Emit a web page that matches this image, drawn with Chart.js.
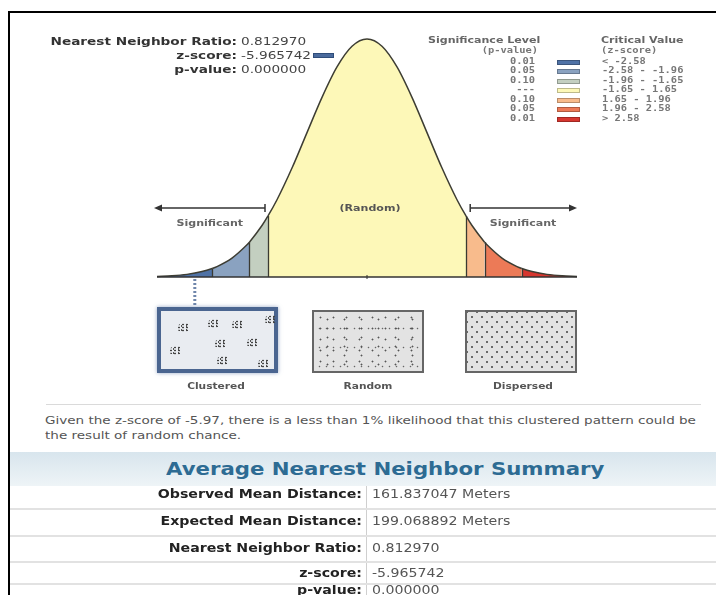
<!DOCTYPE html>
<html lang="en">
<head>
    <meta charset="UTF-8">
    <title>Average Nearest Neighbor Summary</title>
    <style>
        body {
            margin: 0;
            width: 716px;
            height: 595px;
            overflow: hidden;
            background: #fff;
            position: relative;
            font-family: "DejaVu Sans", Verdana, sans-serif;
        }
        .abs { position: absolute; white-space: nowrap; }
        /* the report text is a little wider than tall */
        .sl { transform: scaleX(1.3); transform-origin: left center; }
        .sr { transform: scaleX(1.3); transform-origin: right center; }
        .sc { transform: scaleX(1.25); transform-origin: center center; }
        .frame-top { position: absolute; left: 8px; top: 11px; width: 708px; height: 2px; background: #000; }
        .frame-left { position: absolute; left: 8px; top: 11px; width: 2px; height: 584px; background: #000; }
        #curve { position: absolute; left: 0; top: 0; }
        .stat-label { font-size: 10.5px; font-weight: bold; color: #333; text-align: right; width: 200px; left: 37px; }
        .stat-value { font-size: 10.5px; color: #444; left: 241px; }
        .leg-head { font-size: 8.5px; font-weight: bold; color: #666; }
        .leg-mono { font-family: "DejaVu Sans Mono", monospace; font-size: 8px; font-weight: bold; color: #777; }
        .swatch { position: absolute; width: 23px; height: 5px; box-sizing: border-box; border: 1px solid rgba(0,0,0,0.25); }
        .box { position: absolute; box-sizing: border-box; }
        .clustered {
            left: 157px; top: 307px; width: 121px; height: 66px;
            border: 4px solid #4a6590;
            background: #e9ecf1;
            box-shadow: 0 0 4px rgba(80,110,160,0.6);
        }
        .clu {
            position: absolute; width: 13px; height: 9px; border-radius: 60% 40% 50% 45%;
            background:
                radial-gradient(circle, #444 0.7px, transparent 1.2px) 0 0 / 4px 3px,
                radial-gradient(circle, #555 0.6px, transparent 1.1px) 2px 1px / 5px 4px;
        }
        .random {
            left: 312px; top: 310px; width: 112px; height: 63px;
            border: 2px solid #666;
            background-color: #e3e3e3;
            background-image:
                radial-gradient(circle, #555 0.7px, transparent 1.2px),
                radial-gradient(circle, #555 0.7px, transparent 1.2px),
                radial-gradient(circle, #666 0.6px, transparent 1.1px);
            background-size: 13px 11px, 17px 9px, 7px 19px;
            background-position: 0 0, 5px 3px, 2px 7px;
        }
        .dispersed {
            left: 465px; top: 310px; width: 112px; height: 63px;
            border: 2px solid #666;
            background-color: #e3e3e3;
            background-image:
                radial-gradient(circle, #666 0.7px, transparent 1.2px),
                radial-gradient(circle, #666 0.7px, transparent 1.2px);
            background-size: 10px 10px, 10px 10px;
            background-position: 0 0, 5px 5px;
        }
        .pat-label { font-size: 8.5px; font-weight: bold; color: #555; text-align: center; width: 120px; top: 381px; }
        .sep { position: absolute; left: 46px; top: 404px; width: 655px; height: 1px; background: #dadada; }
        .note { left: 45px; top: 413px; font-size: 11px; line-height: 15px; color: #555; white-space: normal; width: 545px;
                transform: scaleX(1.23); transform-origin: left top; }
        .band {
            position: absolute; left: 10px; top: 452px; width: 706px; height: 34px;
            background: linear-gradient(to bottom, #d8e5ed, #eef4f7);
        }
        .title { left: 166px; top: 459px; font-size: 17px; font-weight: bold; color: #2d6b93;
                 transform: scaleX(1.25); transform-origin: left center; }
        .vline { position: absolute; left: 366px; top: 486px; width: 1px; height: 109px; background: #cfcfcf; }
        .hline { position: absolute; left: 10px; width: 706px; height: 2px; background: #e2e2e2; }
        .row-label { font-size: 11.5px; font-weight: bold; color: #222; text-align: right; width: 300px; left: 62px;
                     transform: scaleX(1.23); transform-origin: right center; }
        .row-value { font-size: 11.5px; color: #555; left: 372px;
                     transform: scaleX(1.23); transform-origin: left center; }
    </style>
</head>
<body>
    <canvas id="curve" width="716" height="310"></canvas>
    <div class="frame-top"></div>
    <div class="frame-left"></div>
    <div id="stats"></div>
    <div class="abs" style="left:313px;top:53px;width:21px;height:5px;background:#4a6a9c;border:1px solid #2f4d7a;box-sizing:border-box;"></div>
    <div id="legend"></div>

    <div class="box clustered" id="clusterBox"></div>
    <div class="box random"></div>
    <div class="box dispersed"></div>
    <div class="abs pat-label sc" style="left:156px;">Clustered</div>
    <div class="abs pat-label sc" style="left:308px;">Random</div>
    <div class="abs pat-label sc" style="left:463px;">Dispersed</div>

    <div class="sep"></div>
    <div class="abs note">Given the z-score of -5.97, there is a less than 1% likelihood that this clustered pattern could be the result of random chance.</div>

    <div class="band"></div>
    <div class="abs title">Average Nearest Neighbor Summary</div>
    <div class="vline"></div>
    <div id="summary"></div>

    <script src="https://cdn.jsdelivr.net/npm/chart.js"></script>
    <script>
        // standard normal curve
        const zValues = [-3.5, -3.25, -3, -2.75, -2.58, -2.5, -2.25, -2, -1.96, -1.75, -1.65, -1.5, -1.25, -1, -0.75, -0.5, -0.25,
                         0, 0.25, 0.5, 0.75, 1, 1.25, 1.5, 1.65, 1.75, 1.96, 2, 2.25, 2.5, 2.58, 2.75, 3, 3.25, 3.5];
        const density = [0.0009, 0.0020, 0.0044, 0.0091, 0.0143, 0.0175, 0.0317, 0.0540, 0.0584, 0.0863, 0.1023, 0.1295, 0.1826, 0.2420, 0.3011, 0.3521, 0.3867,
                         0.3989, 0.3867, 0.3521, 0.3011, 0.2420, 0.1826, 0.1295, 0.1023, 0.0863, 0.0584, 0.0540, 0.0317, 0.0175, 0.0143, 0.0091, 0.0044, 0.0020, 0.0009];
        const criticalZ = [-2.58, -1.96, -1.65, 1.65, 1.96, 2.58];
        const bandColors = ['#4f72a6', '#8aa2c0', '#c3cfc0', '#fdf8b8', '#f8bb8c', '#ec7a57', '#d6362f'];
        const markerZ = -2.87;   // observed z-score (-5.97) is pinned at the left tail

        const pLevels = ['0.01', '0.05', '0.10', '---', '0.10', '0.05', '0.01'];
        const zRanges = ['< -2.58', '-2.58 - -1.96', '-1.96 - -1.65', '-1.65 - 1.65', '1.65 - 1.96', '1.96 - 2.58', '> 2.58'];

        const statLabels = ['Nearest Neighbor Ratio:', 'z-score:', 'p-value:'];
        const statValues = ['0.812970', '-5.965742', '0.000000'];

        const summaryLabels = ['Observed Mean Distance:', 'Expected Mean Distance:', 'Nearest Neighbor Ratio:', 'z-score:', 'p-value:'];
        const summaryValues = ['161.837047 Meters', '199.068892 Meters', '0.812970', '-5.965742', '0.000000'];

        function bandIndex(z) {
            let i = 0;
            while (i < criticalZ.length && z > criticalZ[i]) i++;
            return i;
        }

        // top left stats
        let html = '';
        statLabels.forEach((lab, i) => {
            const top = 35 + i * 14;
            html += `<div class="abs stat-label sr" style="top:${top}px">${lab}</div>`;
            html += `<div class="abs stat-value sl" style="top:${top}px">${statValues[i]}</div>`;
        });
        document.getElementById('stats').innerHTML = html;

        // legend
        html = '';
        html += '<div class="abs leg-head sl" style="left:428px;top:35px">Significance Level</div>';
        html += '<div class="abs leg-mono sr" style="left:478px;top:46px;width:60px;text-align:right">(p-value)</div>';
        html += '<div class="abs leg-head sl" style="left:601px;top:35px">Critical Value</div>';
        html += '<div class="abs leg-mono sl" style="left:601px;top:46px">(z-score)</div>';
        pLevels.forEach((p, i) => {
            const cy = 62 + i * 9.5;
            html += `<div class="abs leg-mono sr" style="left:495px;width:40px;text-align:right;top:${cy - 5.5}px">${p}</div>`;
            html += `<div class="swatch" style="left:557px;top:${cy - 2.5}px;background:${bandColors[i]}"></div>`;
            html += `<div class="abs leg-mono sl" style="left:602px;top:${cy - 5.5}px">${zRanges[i]}</div>`;
        });
        document.getElementById('legend').innerHTML = html;

        // clusters in the clustered sketch
        const clusterSpots = [[16, 12], [46, 8], [70, 9], [103, 4], [8, 35], [53, 28], [85, 27], [55, 45], [96, 48]];
        document.getElementById('clusterBox').innerHTML =
            clusterSpots.map(s => `<div class="clu" style="left:${s[0]}px;top:${s[1]}px"></div>`).join('');

        // summary table
        html = '';
        const rowCenters = [494, 521, 548, 573, 590];
        const rowLines = [508, 535, 561, 583];
        summaryLabels.forEach((lab, i) => {
            html += `<div class="abs row-label" style="top:${rowCenters[i] - 7.5}px">${lab}</div>`;
            html += `<div class="abs row-value" style="top:${rowCenters[i] - 7.5}px">${summaryValues[i]}</div>`;
        });
        rowLines.forEach(y => { html += `<div class="hline" style="top:${y}px"></div>`; });
        document.getElementById('summary').innerHTML = html;

        const bellExtras = {
            id: 'bellExtras',
            afterDatasetsDraw(chart) {
                const ctx = chart.ctx;
                const xs = chart.scales.x, ys = chart.scales.y;
                const y0 = ys.getPixelForValue(0);
                ctx.save();

                // band dividers
                ctx.strokeStyle = '#3a3a32';
                ctx.lineWidth = 1.3;
                criticalZ.forEach(z => {
                    const i = zValues.indexOf(z);
                    const px = Math.round(xs.getPixelForValue(z)) + 0.5;
                    ctx.beginPath();
                    ctx.moveTo(px, y0);
                    ctx.lineTo(px, ys.getPixelForValue(density[i]));
                    ctx.stroke();
                });

                // baseline + center tick
                ctx.strokeStyle = '#333';
                ctx.lineWidth = 1.6;
                ctx.beginPath();
                ctx.moveTo(xs.getPixelForValue(-3.5), y0);
                ctx.lineTo(xs.getPixelForValue(3.5), y0);
                ctx.stroke();
                const cx = xs.getPixelForValue(0);
                ctx.lineWidth = 1;
                ctx.beginPath();
                ctx.moveTo(cx, y0 - 2);
                ctx.lineTo(cx, y0 + 2);
                ctx.stroke();

                // significance arrows
                const ay = chart.chartArea.top + 169;
                ctx.lineWidth = 1.5;
                ctx.fillStyle = '#333';
                const drawArrow = (from, to) => {
                    const x1 = xs.getPixelForValue(from), x2 = xs.getPixelForValue(to);
                    const dir = Math.sign(x2 - x1);
                    ctx.beginPath();
                    ctx.moveTo(x1, ay); ctx.lineTo(x2 - dir * 6, ay);
                    ctx.stroke();
                    ctx.beginPath();
                    ctx.moveTo(x1, ay - 4); ctx.lineTo(x1, ay + 4);
                    ctx.stroke();
                    ctx.beginPath();
                    ctx.moveTo(x2, ay); ctx.lineTo(x2 - dir * 8, ay - 3.5); ctx.lineTo(x2 - dir * 8, ay + 3.5);
                    ctx.closePath();
                    ctx.fill();
                };
                drawArrow(-1.7, -3.55);
                drawArrow(1.72, 3.5);

                const wideText = (txt, x, y) => {
                    ctx.save();
                    ctx.translate(x, y);
                    ctx.scale(1.3, 1);
                    ctx.fillText(txt, 0, 0);
                    ctx.restore();
                };
                ctx.font = 'bold 8.5px "DejaVu Sans"';
                ctx.fillStyle = '#666';
                ctx.textAlign = 'center';
                ctx.textBaseline = 'middle';
                wideText('Significant', xs.getPixelForValue(-2.62), ay + 16);
                wideText('Significant', xs.getPixelForValue(2.6), ay + 16);
                ctx.fillStyle = '#555';
                wideText('(Random)', xs.getPixelForValue(0.05), ay + 1);

                // dotted pointer from the observed z-score down to the pattern
                const mx = xs.getPixelForValue(markerZ);
                ctx.strokeStyle = '#6f86ab';
                ctx.lineWidth = 3;
                ctx.setLineDash([2, 2]);
                ctx.beginPath();
                ctx.moveTo(mx, y0 + 2);
                ctx.lineTo(mx, y0 + 29);
                ctx.stroke();
                ctx.restore();
            }
        };

        new Chart(document.getElementById('curve'), {
            type: 'line',
            data: {
                datasets: [{
                    data: zValues.map((z, i) => ({ x: z, y: density[i] })),
                    borderColor: '#3d3d33',
                    borderWidth: 1.5,
                    backgroundColor: bandColors[3],
                    fill: 'origin',
                    pointRadius: 0,
                    cubicInterpolationMode: 'monotone',
                    clip: false,
                    segment: {
                        backgroundColor: c => bandColors[bandIndex((c.p0.parsed.x + c.p1.parsed.x) / 2)]
                    }
                }]
            },
            options: {
                responsive: false,
                animation: false,
                events: [],
                layout: { padding: { left: 157, right: 139, top: 39, bottom: 33 } },
                scales: {
                    x: { type: 'linear', min: -3.5, max: 3.5, display: false },
                    y: { min: 0, max: 0.3989, display: false }
                },
                plugins: { legend: { display: false }, tooltip: { enabled: false } }
            },
            plugins: [bellExtras]
        });
    </script>
</body>
</html>
